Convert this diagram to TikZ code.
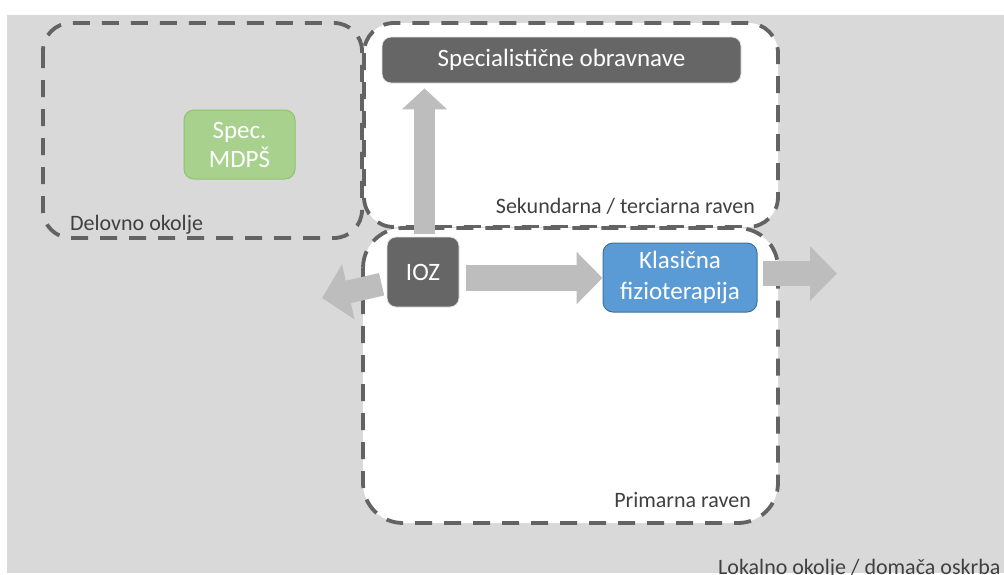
\documentclass[tikz,border=0pt]{standalone}
\usepackage{fontspec}
\setmainfont{Carlito}
\usetikzlibrary{arrows.meta,calc}
\definecolor{bggray}{HTML}{D9D9D9}
\definecolor{dashgray}{HTML}{636363}
\definecolor{boxgray}{HTML}{666666}
\definecolor{arrowgray}{HTML}{BDBDBD}
\definecolor{labelgray}{HTML}{404040}
\definecolor{greenfill}{HTML}{A9D18E}
\definecolor{greenline}{HTML}{8FC26C}
\definecolor{bluefill}{HTML}{5B9BD5}
\definecolor{blueline}{HTML}{41719C}
\tikzset{
  region/.style={draw=dashgray, line width=3.8pt, dash pattern=on 17pt off 12pt},
  darkbox/.style={fill=boxgray, draw=white!85!boxgray, line width=0.8pt, rounded corners=9pt, inner sep=0pt, text=white, font=\fontsize{25}{30}\selectfont, align=center},
  greenbox/.style={fill=greenfill, draw=greenline, line width=1pt, rounded corners=10pt, inner sep=0pt, text=white, font=\fontsize{25}{29}\selectfont, align=center},
  bluebox/.style={fill=bluefill, draw=blueline, line width=1pt, rounded corners=10pt, inner sep=0pt, text=white, font=\fontsize{25}{31}\selectfont, align=center},
  lbl/.style={text=labelgray, font=\fontsize{22}{26}\selectfont, inner sep=0pt},
  fatarrow/.style={draw=arrowgray, line cap=butt},
}
\begin{document}
\begin{tikzpicture}[x=1pt,y=-1pt]
\useasboundingbox (0,0) rectangle (1004,574);
\fill[white] (0,0) rectangle (1004,574);
\fill[bggray] (7,15) rectangle (1004,573);
% regions
\draw[region, fill=bggray, rounded corners=28pt] (43,23) rectangle (362,238);
\draw[region, fill=white, rounded corners=30pt] (364,23) rectangle (778,227);
\draw[region, fill=white, rounded corners=40pt] (363,228) rectangle (778,523);
% region labels
\node[lbl, anchor=base west] (ldel) at (70,230) {Delovno okolje};
\node[lbl, anchor=base east] (lsek) at (755,213) {Sekundarna / terciarna raven};
\node[lbl, anchor=base east] (lprim) at (751,507) {Primarna raven};
\node[lbl, anchor=base west] (llok) at (718,574) {Lokalno okolje / domača oskrba};
% boxes
\node[darkbox, minimum width=359pt, minimum height=46pt] (spec) at (561.5,60) {Specialistične obravnave};
\node[greenbox, minimum width=111pt, minimum height=69pt] (mdps) at (239.5,144.5) {Spec.\\MDPŠ};
\node[darkbox, minimum width=72pt, minimum height=70pt] (ioz) at (423,272) {IOZ};
\node[bluebox, minimum width=154pt, minimum height=69pt] (klas) at (680,277.5) {Klasična\\fizioterapija};
% free ends
\coordinate (outend) at (837,273.5);
\coordinate (leftend) at (322,298);
% arrows
\draw[fatarrow, line width=21pt, -{Triangle[width=44pt,length=21pt]}]
  ($(ioz.north)+(1.5,-3)$) -- ($(spec.south -| ioz.north)+(1.5,5)$);
\draw[fatarrow, line width=26pt, -{Triangle[width=51pt,length=26pt]}]
  ($(ioz.east |- klas.west)+(7,0.5)$) -- ($(klas.west)+(0,0.5)$);
\draw[fatarrow, line width=25pt, -{Triangle[width=53pt,length=27pt]}]
  ($(klas.east)+(5,-4)$) -- (outend);
\draw[fatarrow, line width=23pt, -{Triangle[width=55pt,length=27pt]}]
  ($(ioz.200)+(-5,-1)$) -- (leftend);
\end{tikzpicture}
\end{document}
